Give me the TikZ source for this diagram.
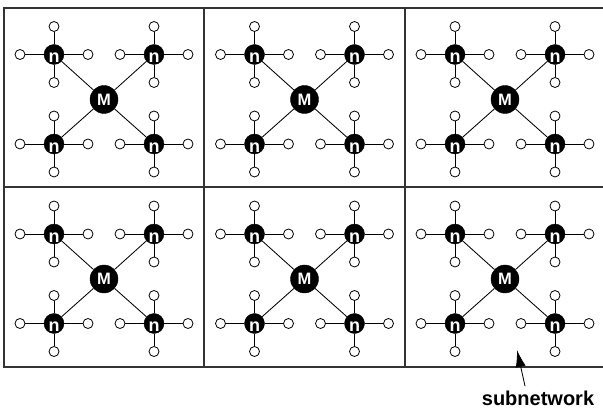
\documentclass[tikz,border=0pt]{standalone}
\usepackage{fontspec}
\setmainfont{Liberation Sans}
\usetikzlibrary{arrows.meta}
\begin{document}
\begin{tikzpicture}[x=1pt,y=-1pt,
  hub/.style={circle,fill=black,draw=black,minimum size=28pt,inner sep=0pt,text=white,font=\fontsize{16.5}{16.5}\selectfont\bfseries},
  subhub/.style={circle,fill=black,draw=black,minimum size=20pt,inner sep=0pt,
     label={[text=white,font=\fontsize{18}{18}\selectfont\bfseries,yshift=-3.5pt]center:n}},
  leaf/.style={circle,draw=black,fill=white,line width=0.8pt,minimum size=10pt,inner sep=0pt},
  link/.style={line width=0.85pt},
  frame/.style={line width=1.1pt,draw=black!80}]
\useasboundingbox (0,0) rectangle (603,414);
% frame and grid
\draw[frame] (4,8) rectangle (604.5,367);
\draw[frame] (4,187) -- (604.5,187);
\draw[frame] (204,8) -- (204,367);
\draw[frame] (405,8) -- (405,367);
\foreach \c/\cx in {1/4,2/204.5,3/405}{
  \foreach \r/\ry in {1/8,2/187.5}{
    \node[hub] (M-\c-\r) at (\cx+100,\ry+91.5) {M};
    \foreach \k/\dx/\dy in {a/-50/-45,b/50/-45,c/-50/44.5,d/50/44.5}{
      \node[subhub] (n-\c-\r-\k) at (\cx+100+\dx,\ry+91.5+\dy) {};
      \draw[link] (M-\c-\r) -- (n-\c-\r-\k);
      \node[leaf] (l-\c-\r-\k-t) at ([yshift=28pt]n-\c-\r-\k.center) {};
      \node[leaf] (l-\c-\r-\k-b) at ([yshift=-28pt]n-\c-\r-\k.center) {};
      \node[leaf] (l-\c-\r-\k-l) at ([xshift=-34pt]n-\c-\r-\k.center) {};
      \node[leaf] (l-\c-\r-\k-r) at ([xshift=34pt]n-\c-\r-\k.center) {};
      \foreach \s in {t,b,l,r}{
        \draw[link] (n-\c-\r-\k) -- (l-\c-\r-\k-\s);
      }
    }
  }
}
\node[font=\fontsize{20}{20}\selectfont\bfseries,anchor=base] (sub) at (538,405) {subnetwork};
\coordinate (tail) at (525,386);
\coordinate (tip) at (517,350);
\draw[link,-{Latex[length=17pt,width=10pt]}] (tail) -- (tip);
\end{tikzpicture}
\end{document}
